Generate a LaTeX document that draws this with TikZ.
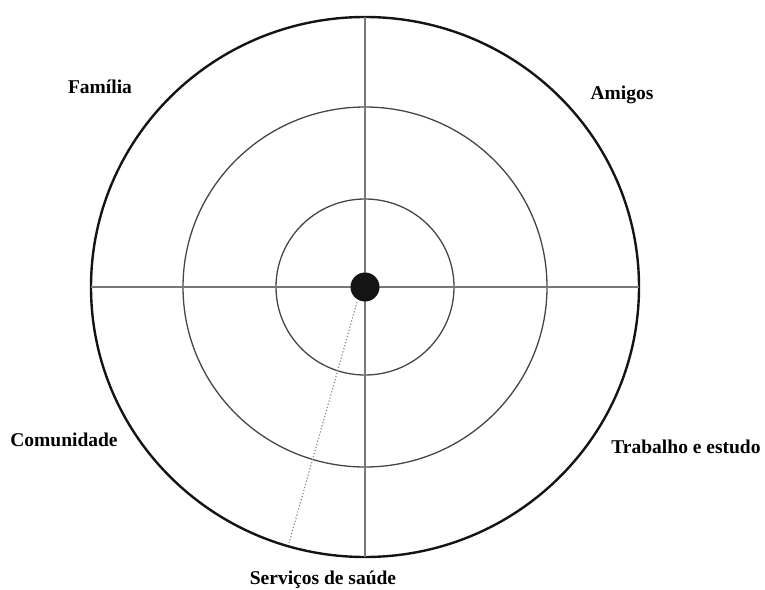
\documentclass[tikz,border=0pt]{standalone}
\usepackage{fontspec}
\setmainfont{Liberation Serif}
\usepackage{tikz}
\usetikzlibrary{positioning, calc}
\definecolor{ringdark}{RGB}{20,20,20}
\definecolor{ringgray}{RGB}{70,70,70}
\definecolor{axisgray}{RGB}{120,120,120}
\definecolor{dotgray}{RGB}{140,140,140}
\tikzset{
  outerring/.style={draw=ringdark, line width=2.4pt},
  innerring/.style={draw=ringgray, line width=1.3pt},
  axisline/.style={draw=axisgray, line width=1.6pt},
  dotline/.style={draw=dotgray, line width=1.2pt, dotted},
  hub/.style={circle, fill=ringdark, inner sep=0pt, minimum size=29pt},
  sector/.style={font=\bfseries\fontsize{19.5}{22}\selectfont, inner sep=0pt}
}

\begin{document}
\begin{tikzpicture}[x=1pt, y=-1pt]
  \useasboundingbox (0,0) rectangle (765,589);

  % Rings
  \coordinate (C) at (365,287);
  \draw[outerring] (C) ellipse [x radius=274, y radius=270];
  \draw[innerring] (C) ellipse [x radius=182, y radius=180];
  \draw[innerring] (C) ellipse [x radius=89, y radius=88];

  % Axes
  \coordinate (top) at (365,17);
  \coordinate (bottom) at (365,557);
  \coordinate (left) at (91,287);
  \coordinate (right) at (639,287);
  \draw[axisline] (left) -- (right);
  \draw[axisline] (top) -- (bottom);

  % Hub and dotted spoke
  \node[hub] (hub) at (C) {};
  \coordinate (spokeA) at (357,302);
  \coordinate (spokeB) at (289,543);
  \draw[dotline] (spokeA) -- (spokeB);

  % Labels
  \node[sector] (familia) at (100,87) {Família};
  \node[sector] (amigos) at (622,95) {Amigos};
  \node[sector] (comunidade) at (64,440) {Comunidade};
  \node[sector] (trabalho) at (686,447) {Trabalho e estudo};
  \node[sector] (servicos) at (323,580) {Serviços de saúde};
\end{tikzpicture}
\end{document}
